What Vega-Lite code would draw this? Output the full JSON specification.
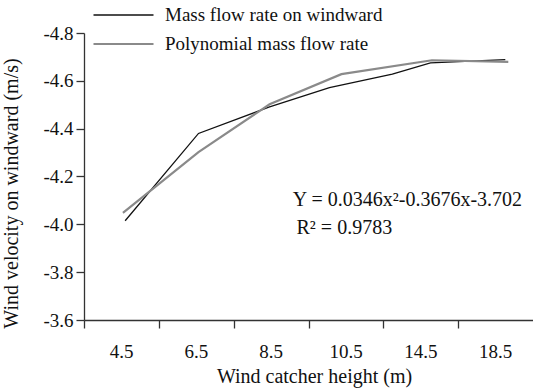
{
  "$schema": "https://vega.github.io/schema/vega-lite/v6.json",
  "width": 449,
  "height": 287,
  "autosize": "none",
  "padding": {"left": 84, "top": 33, "right": 0, "bottom": 70},
  "config": {
    "view": {"stroke": null},
    "font": "Liberation Serif",
    "axis": {
      "grid": false,
      "domainColor": "#333333",
      "tickColor": "#333333",
      "domainWidth": 1.3,
      "tickWidth": 1.3,
      "labelColor": "#111111",
      "titleColor": "#111111",
      "labelFont": "Liberation Serif",
      "titleFont": "Liberation Serif",
      "titleFontWeight": "normal",
      "labelFontSize": 19,
      "titleFontSize": 20
    },
    "legend": {"labelFont": "Liberation Serif"}
  },
  "layer": [
    {
      "data": {
        "values": [
          {"series": "Mass flow rate on windward", "u": 0.55, "v": -4.015},
          {"series": "Mass flow rate on windward", "u": 1.53, "v": -4.38},
          {"series": "Mass flow rate on windward", "u": 2.47, "v": -4.49},
          {"series": "Mass flow rate on windward", "u": 3.28, "v": -4.572},
          {"series": "Mass flow rate on windward", "u": 4.12, "v": -4.628},
          {"series": "Mass flow rate on windward", "u": 4.63, "v": -4.675},
          {"series": "Mass flow rate on windward", "u": 5.63, "v": -4.689},
          {"series": "Polynomial mass flow rate", "u": 0.52, "v": -4.048},
          {"series": "Polynomial mass flow rate", "u": 1.53, "v": -4.302},
          {"series": "Polynomial mass flow rate", "u": 2.48, "v": -4.502},
          {"series": "Polynomial mass flow rate", "u": 3.44, "v": -4.628},
          {"series": "Polynomial mass flow rate", "u": 4.65, "v": -4.686},
          {"series": "Polynomial mass flow rate", "u": 5.67, "v": -4.679}
        ]
      },
      "mark": {"type": "line"},
      "encoding": {
        "x": {
          "field": "u",
          "type": "quantitative",
          "scale": {"domain": [0, 6], "nice": false, "zero": false},
          "axis": {
            "values": [0, 1, 2, 3, 4, 5],
            "tickSize": 8,
            "labelExpr": "datum.value == 0 ? '4.5' : datum.value == 1 ? '6.5' : datum.value == 2 ? '8.5' : datum.value == 3 ? '10.5' : datum.value == 4 ? '14.5' : '18.5'",
            "labelOffset": 37,
            "labelAlign": "center",
            "labelOverlap": false,
            "labelFlush": false,
            "labelBound": false,
            "labelFont": "Liberation Serif",
            "labelPadding": 14,
            "title": "Wind catcher height (m)",
            "titleX": 230,
            "titleY": 56,
            "titleBaseline": "middle",
            "titleAlign": "center"
          }
        },
        "y": {
          "field": "v",
          "type": "quantitative",
          "scale": {"domain": [-4.8, -3.6], "reverse": true, "nice": false, "zero": false},
          "axis": {
            "values": [-4.8, -4.6, -4.4, -4.2, -4.0, -3.8, -3.6],
            "labelExpr": "'-' + format(abs(datum.value), '.1f')",
            "labelFont": "Liberation Serif",
            "tickSize": 8,
            "labelPadding": 3,
            "title": "Wind velocity on windward (m/s)",
            "titleAngle": -90,
            "titleX": -73,
            "titleY": 160,
            "titleAlign": "center",
            "titleBaseline": "middle"
          }
        },
        "color": {
          "field": "series",
          "type": "nominal",
          "scale": {
            "domain": ["Mass flow rate on windward", "Polynomial mass flow rate"],
            "range": ["#111111", "#8a8a8a"]
          },
          "legend": {
            "title": null,
            "orient": "none",
            "legendX": 8,
            "legendY": -28,
            "padding": 0,
            "symbolType": "stroke",
            "symbolSize": 3600,
            "symbolStrokeWidth": 1.6,
            "clipHeight": 20,
            "labelFontSize": 19,
            "labelLimit": 0,
            "labelColor": "#111111",
            "labelOffset": 10,
            "rowPadding": 9
          }
        },
        "strokeWidth": {
          "field": "series",
          "type": "nominal",
          "scale": {
            "domain": ["Mass flow rate on windward", "Polynomial mass flow rate"],
            "range": [1.3, 2.2]
          },
          "legend": null
        }
      }
    },
    {
      "data": {
        "values": [
          {"tx": 2.79, "ty": -4.101, "label": "Y = 0.0346x²-0.3676x-3.702"},
          {"tx": 2.84, "ty": -3.984, "label": "R² = 0.9783"}
        ]
      },
      "mark": {"type": "text", "align": "left", "baseline": "middle", "font": "Liberation Serif", "fontSize": 20, "color": "#111111"},
      "encoding": {
        "x": {"field": "tx", "type": "quantitative"},
        "y": {"field": "ty", "type": "quantitative"},
        "text": {"field": "label"}
      }
    }
  ]
}
